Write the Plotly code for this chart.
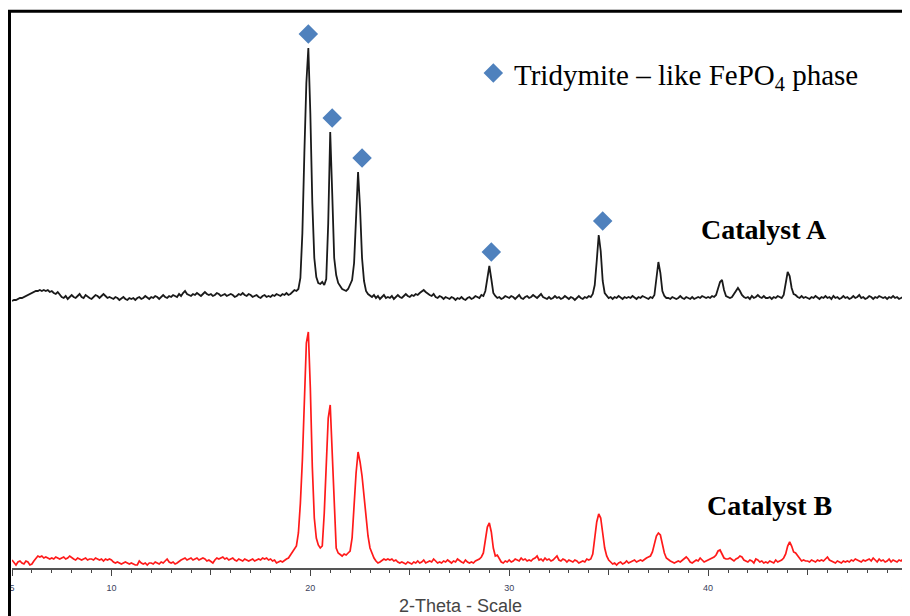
import numpy as np
import plotly.graph_objects as go

# 2-theta scan grid (degrees), 0.1 deg step
two_theta = np.round(np.arange(5.0, 50.01, 0.1), 1)

# Catalyst A intensity (a.u.), rows of 1 degree
catalyst_a = [
    2, 3, 3, 4, 5, 5, 6, 7, 8, 9,
    10, 11, 12, 12, 13, 12, 13, 12, 13, 11,
    12, 10, 9, 11, 8, 6, 5, 7, 4, 6,
    8, 6, 5, 7, 9, 6, 5, 8, 6, 5,
    4, 6, 8, 7, 5, 7, 9, 7, 5, 6,
    5, 4, 6, 5, 3, 5, 6, 4, 3, 5,
    4, 5, 3, 5, 6, 4, 5, 7, 5, 4,
    6, 5, 7, 6, 4, 6, 8, 6, 5, 7,
    6, 8, 7, 6, 9, 7, 10, 12, 9, 8,
    7, 9, 8, 10, 8, 7, 9, 11, 9, 8,
    9, 7, 8, 10, 9, 7, 8, 9, 7, 8,
    9, 8, 6, 7, 9, 8, 10, 8, 7, 9,
    8, 6, 7, 8, 6, 5, 7, 8, 6, 7,
    6, 8, 7, 9, 8, 7, 9, 8, 10, 8,
    9, 11, 13, 12, 14, 25, 70, 150, 220, 255,
    190, 100, 45, 26, 20, 19, 21, 18, 24, 80,
    171, 110, 45, 28, 20, 17, 14, 13, 12, 14,
    18, 23, 40, 90, 131, 95, 45, 22, 12, 9,
    7, 6, 8, 5, 7, 4, 6, 8, 5, 6,
    5, 7, 4, 6, 8, 6, 5, 7, 9, 7,
    6, 8, 7, 9, 8, 10, 12, 13, 11, 9,
    8, 7, 9, 6, 5, 7, 6, 4, 6, 5,
    4, 6, 5, 3, 5, 4, 6, 4, 3, 5,
    6, 4, 5, 7, 6, 5, 8, 7, 12, 26,
    37, 24, 10, 7, 5, 6, 4, 5, 7, 6,
    5, 7, 6, 4, 6, 8, 5, 4, 6, 7,
    5, 6, 8, 6, 5, 7, 9, 6, 5, 4,
    6, 4, 5, 7, 5, 6, 4, 5, 7, 5,
    4, 6, 5, 3, 5, 7, 5, 4, 6, 5,
    7, 6, 9, 18, 42, 68, 52, 22, 10, 7,
    5, 6, 4, 6, 5, 7, 5, 4, 6, 5,
    6, 5, 7, 5, 4, 6, 5, 7, 6, 5,
    4, 6, 5, 8, 25, 41, 30, 12, 7, 5,
    5, 4, 6, 5, 4, 5, 7, 5, 4, 6,
    5, 4, 6, 4, 5, 6, 5, 7, 6, 5,
    6, 5, 7, 6, 8, 14, 21, 23, 13, 7,
    6, 5, 6, 9, 13, 15, 12, 8, 6, 5,
    6, 4, 7, 5, 6, 8, 6, 5, 7, 5,
    5, 6, 4, 6, 5, 7, 6, 5, 8, 18,
    31, 27, 15, 9, 8, 6, 5, 7, 5, 6,
    5, 4, 6, 5, 7, 5, 4, 6, 5, 7,
    5, 6, 4, 7, 5, 6, 4, 5, 7, 5,
    6, 4, 5, 7, 5, 6, 8, 5, 6, 4,
    5, 7, 6, 4, 6, 5, 7, 6, 5, 6,
    4, 6, 5, 7, 5, 6, 4, 5, 6, 5,
    5,
]

# Catalyst B intensity (a.u.), rows of 1 degree
catalyst_b = [
    8, 5, 3, 6, 7, 5, 4, 7, 6, 3,
    4, 7, 10, 12, 11, 12, 10, 11, 10, 9,
    10, 9, 11, 10, 9, 10, 11, 9, 10, 12,
    10, 9, 8, 10, 9, 8, 9, 10, 8, 9,
    9, 8, 10, 9, 8, 9, 7, 9, 8, 9,
    8, 6, 5, 6, 5, 4, 5, 6, 5, 4,
    5, 4, 3, 3, 7, 5, 4, 5, 3, 5,
    5, 4, 6, 5, 4, 6, 5, 7, 9, 6,
    5, 6, 4, 5, 7, 8, 9, 10, 8, 9,
    10, 8, 9, 10, 8, 9, 10, 9, 7, 8,
    6, 5, 8, 10, 9, 10, 11, 9, 10, 8,
    9, 10, 8, 7, 9, 8, 7, 9, 8, 7,
    8, 9, 7, 8, 9, 8, 10, 9, 10, 8,
    9, 7, 8, 5, 6, 7, 6, 8, 9, 10,
    13, 15, 18, 22, 35, 65, 108, 161, 225, 236,
    180, 101, 50, 30, 23, 20, 22, 55, 105, 150,
    163, 115, 55, 20, 15, 13, 12, 14, 13, 15,
    17, 30, 65, 95, 116, 106, 92, 72, 50, 32,
    20, 14, 10, 7, 5, 6, 8, 9, 8, 9,
    8, 9, 7, 8, 6, 5, 6, 5, 4, 6,
    5, 4, 6, 5, 7, 5, 6, 8, 5, 6,
    7, 6, 9, 7, 5, 6, 5, 7, 6, 8,
    6, 5, 7, 6, 9, 7, 6, 5, 8, 6,
    5, 6, 5, 7, 8, 9, 11, 15, 28, 41,
    45, 36, 20, 12, 13, 10, 6, 5, 7, 6,
    8, 6, 7, 9, 8, 7, 10, 8, 9, 7,
    8, 7, 9, 10, 12, 8, 9, 7, 10, 8,
    9, 7, 8, 10, 12, 8, 7, 9, 8, 6,
    8, 7, 6, 8, 7, 5, 6, 7, 6, 9,
    8, 9, 14, 30, 46, 54, 50, 35, 20, 12,
    8, 6, 4, 5, 3, 5, 6, 4, 5, 7,
    5, 6, 7, 8, 6, 7, 8, 7, 9, 10,
    11, 12, 16, 24, 32, 35, 33, 24, 15, 10,
    8, 7, 6, 5, 6, 7, 6, 8, 9, 11,
    9, 6, 5, 7, 8, 7, 10, 8, 6, 7,
    8, 9, 10, 11, 13, 17, 18, 14, 10, 9,
    9, 10, 8, 7, 9, 10, 12, 11, 8, 7,
    6, 8, 7, 5, 9, 8, 6, 7, 5, 6,
    5, 7, 6, 5, 8, 6, 7, 8, 10, 14,
    22, 26, 22, 16, 15, 12, 9, 7, 8, 7,
    7, 6, 8, 7, 6, 8, 7, 8, 7, 9,
    11, 8, 7, 6, 5, 7, 6, 5, 7, 6,
    7, 6, 8, 7, 9, 8, 7, 6, 8, 7,
    8, 9, 7, 10, 8, 6, 9, 7, 8, 6,
    7, 9, 6, 8, 7, 6, 8, 7, 9, 5,
    6,
]

# Tridymite-like FePO4 reflections marked on Catalyst A
tridymite_peaks = [19.9, 21.1, 22.6, 29.1, 34.7]

label_ticks = [5, 10, 20, 30, 40, 50]
label_text = ["5", "10", "20", "30", "40", "50"]
unlabeled_major_ticks = [15, 25, 35, 45]

legend_label = "Tridymite \u2013 like FePO<sub>4</sub> phase"
label_a = "Catalyst A"
label_b = "Catalyst B"
x_title = "2-Theta - Scale"

# ---- presentation ----
offset_a = 265
marker_gap = 14
diamond_color = "#4F81BD"

tt = np.array(two_theta)
ya = np.array(catalyst_a, dtype=float) + offset_a
yb = np.array(catalyst_b, dtype=float)

marker_y = []
for p in tridymite_peaks:
    win = (tt > p - 0.35) & (tt < p + 0.35)
    marker_y.append(ya[win].max() + marker_gap)

fig = go.Figure()
fig.add_trace(go.Scatter(x=tt, y=yb, mode="lines",
                         line=dict(color="#ff1a1a", width=1.7), hoverinfo="skip"))
fig.add_trace(go.Scatter(x=tt, y=ya, mode="lines",
                         line=dict(color="#1a1a1a", width=1.8), hoverinfo="skip"))
fig.add_trace(go.Scatter(x=tridymite_peaks, y=marker_y, mode="markers",
                         marker=dict(symbol="diamond", size=15, color=diamond_color,
                                     line=dict(width=0)), hoverinfo="skip"))
# legend key
fig.add_trace(go.Scatter(x=[29.2], y=[495], mode="markers",
                         marker=dict(symbol="diamond", size=15, color=diamond_color,
                                     line=dict(width=0)), hoverinfo="skip"))
# helper trace to activate the second (tick-only) x axis
fig.add_trace(go.Scatter(x=[5, 50], y=[0, 0], xaxis="x2", mode="lines",
                         line=dict(width=0), hoverinfo="skip", showlegend=False))

serif = "Liberation Serif, Times New Roman, serif"
fig.add_annotation(x=30.12, y=491, xref="x", yref="y", text=legend_label,
                   showarrow=False, xanchor="left", yanchor="middle",
                   font=dict(family=serif, size=29, color="#000"))
fig.add_annotation(x=42.8, y=339, xref="x", yref="y", text="<b>" + label_a + "</b>",
                   showarrow=False, xanchor="center", yanchor="middle",
                   font=dict(family=serif, size=28, color="#000"))
fig.add_annotation(x=43.07, y=63, xref="x", yref="y", text="<b>" + label_b + "</b>",
                   showarrow=False, xanchor="center", yanchor="middle",
                   font=dict(family=serif, size=28, color="#000"))
fig.add_annotation(x=0.501, y=-0.068, xref="paper", yref="paper", text=x_title,
                   showarrow=False, xanchor="center", yanchor="middle",
                   font=dict(family="Liberation Sans, Arial, sans-serif", size=18, color="#454545"))

# outer frame
fig.add_shape(type="rect", xref="paper", yref="paper",
              x0=-0.0028, x1=1.2, y0=-0.5, y1=0.9995,
              line=dict(color="#000", width=3), fillcolor="rgba(0,0,0,0)", layer="above")

tickfont = dict(family="Liberation Sans, Arial, sans-serif", size=9, color="#3b3f5c")
# page body has an 8px default margin, so the figure is sized 8px smaller
fig.update_layout(
    width=902, height=608,
    margin=dict(l=4, r=3, t=3, b=48, autoexpand=False),
    paper_bgcolor="white", plot_bgcolor="white",
    showlegend=False,
    xaxis=dict(range=[5, 50], showgrid=False, zeroline=False, automargin=False,
               showline=True, linecolor="#555", linewidth=1.5,
               ticks="outside", ticklen=6, tickwidth=1.2, tickcolor="#444",
               tickvals=label_ticks, ticktext=label_text,
               tickfont=tickfont, ticklabelstandoff=4, ticklabeloverflow="allow",
               minor=dict(dtick=1, ticks="outside", ticklen=3, tickcolor="#444", tickwidth=1)),
    xaxis2=dict(range=[5, 50], overlaying="x", side="bottom", anchor="y", automargin=False,
                showgrid=False, zeroline=False, showline=False,
                ticks="outside", ticklen=6, tickwidth=1.2, tickcolor="#444",
                tickvals=unlabeled_major_ticks, showticklabels=False),
    yaxis=dict(range=[0, 557], visible=False, showgrid=False, zeroline=False, automargin=False),
)

fig.write_html("out.html", config={"displayModeBar": False})
